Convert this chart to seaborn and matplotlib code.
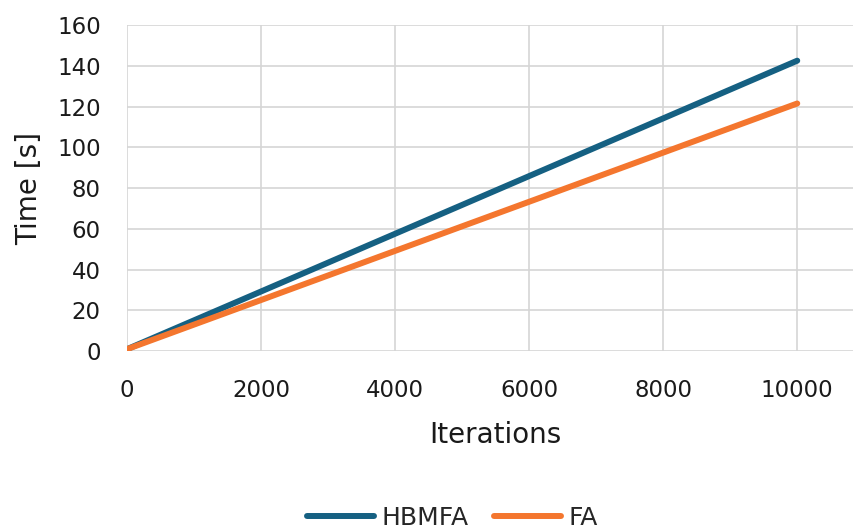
import matplotlib
matplotlib.use("Agg")
import matplotlib.pyplot as plt
import seaborn as sns
import pandas as pd
from matplotlib.lines import Line2D

# Run time versus number of iterations for the two algorithms
iterations = [0, 10000]
hbmfa_time = [1.0, 142.5]
fa_time = [1.0, 121.5]
series_names = ["HBMFA", "FA"]
x_ticks = [0, 2000, 4000, 6000, 8000, 10000]
y_ticks = [0, 20, 40, 60, 80, 100, 120, 140, 160]

df = pd.DataFrame({
    "Iterations": iterations * 2,
    "Time [s]": hbmfa_time + fa_time,
    "Algorithm": [series_names[0]] * len(iterations) + [series_names[1]] * len(iterations),
})

sns.set_theme(style="white")
plt.rcParams["font.family"] = ["DejaVu Sans"]

fig = plt.figure(figsize=(8.54, 5.32), dpi=100)
ax = fig.add_axes([0.149, 0.340, 0.863, 0.613])

palette = {"HBMFA": "#156082", "FA": "#F4762E"}
sns.lineplot(data=df, x="Iterations", y="Time [s]", hue="Algorithm",
             palette=palette, linewidth=4.3, ax=ax, legend=False,
             solid_capstyle="round")

ax.set_xlim(0, 11000)
ax.set_ylim(0, 160)
ax.set_xticks(x_ticks)
ax.set_yticks(y_ticks)
ax.grid(True, color="#D5D5D5", linewidth=1.2)
ax.set_axisbelow(True)
for s in ax.spines.values():
    s.set_visible(False)
ax.tick_params(axis="both", length=0, labelsize=16.5, colors="#1A1A1A")
ax.tick_params(axis="x", pad=20)
ax.tick_params(axis="y", pad=19)
ax.set_xlabel("Iterations", fontsize=20, color="#1A1A1A", labelpad=14)
ax.set_ylabel("Time [s]", fontsize=20, color="#1A1A1A", labelpad=10)

handles = [Line2D([0], [0], color=palette[n], lw=4.3, solid_capstyle="round") for n in series_names]
fig.legend(handles, series_names, loc="center", bbox_to_anchor=(0.530, 0.027),
           ncol=2, frameon=False, fontsize=18, handlelength=2.7,
           handletextpad=0.3, columnspacing=1.0)

fig.savefig("out.png", dpi=100)
